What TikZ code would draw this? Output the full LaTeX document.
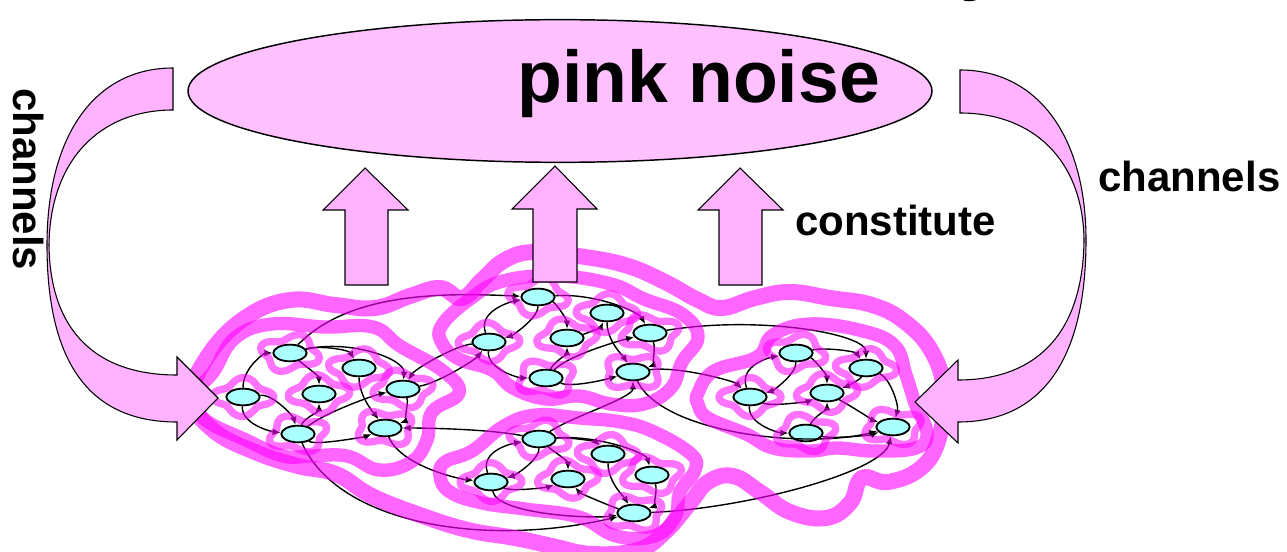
\documentclass[tikz,border=0pt]{standalone}
\usepackage{fontspec}
\setmainfont{Liberation Sans}
\usetikzlibrary{arrows.meta,shapes.geometric}
\definecolor{pinkA}{RGB}{255,192,255}
\definecolor{pinkB}{RGB}{255,178,255}
\definecolor{cyanN}{RGB}{170,255,255}
\definecolor{magB}{RGB}{255,0,255}
\newcommand{\nring}[3]{\draw[ringsty] plot[smooth cycle, variable=\a, samples=36, domain=0:350] ({#1+(27+4*sin(4*\a+#3))*cos(\a)},{#2+(16+3.5*sin(4*\a+#3))*sin(\a)});}
\tikzset{
  nd/.style={ellipse, draw=black, line width=1.4pt, fill=cyanN, minimum width=25pt, minimum height=12.5pt, inner sep=0pt},
  lnk/.style={draw=black, line width=1.05pt, -{Latex[length=6pt,width=5pt]}},
  ringsty/.style={draw=magB, draw opacity=0.55, line width=5.5pt, line join=round},
  clblob/.style={draw=magB, draw opacity=0.6, line width=10pt, line join=round},
  glblob/.style={draw=magB, draw opacity=0.6, line width=12pt, line join=round},
  bigarrow/.style={draw=black, line width=0.8pt, fill=pinkB, line join=miter},
  lbl/.style={font=\fontsize{31.5}{36}\selectfont\bfseries, inner sep=0pt}
}
\begin{document}
\begin{tikzpicture}[x=0.75pt,y=-0.75pt]
\useasboundingbox (0,0) rectangle (1287,552);

% ---------- network nodes ----------
\node[nd] (A1) at (290,353) {};
\node[nd] (A2) at (359,368) {};
\node[nd] (A3) at (243,397) {};
\node[nd] (A4) at (319,394) {};
\node[nd] (A5) at (403,389) {};
\node[nd] (A6) at (298,434) {};
\node[nd] (A7) at (385,428) {};
\node[nd] (B1) at (538,297) {};
\node[nd] (B2) at (607,313) {};
\node[nd] (B3) at (489,342) {};
\node[nd] (B4) at (567,338) {};
\node[nd] (B5) at (650,333) {};
\node[nd] (B6) at (546,378) {};
\node[nd] (B7) at (633,372) {};
\node[nd] (C1) at (539,439) {};
\node[nd] (C2) at (608,454) {};
\node[nd] (C3) at (491,482) {};
\node[nd] (C4) at (568,479) {};
\node[nd] (C5) at (652,475) {};
\node[nd] (C6) at (634,513) {};
\node[nd] (D1) at (796,353) {};
\node[nd] (D2) at (866,368) {};
\node[nd] (D3) at (750,397) {};
\node[nd] (D4) at (827,393) {};
\node[nd] (D5) at (806,433) {};
\node[nd] (D6) at (893,427) {};

% ---------- links ----------
\draw[lnk] (A3) .. controls +(0,-30) and +(-25,0) .. (A1);
\draw[lnk] (A1) .. controls +(30,-8) and +(-10,-18) .. (A2);
\draw[lnk] (A1) .. controls +(14,12) and +(0,-18) .. (A4);
\draw[lnk] (A3) .. controls +(30,-3) and +(-5,-18) .. (A6);
\draw[lnk] (A3) .. controls +(-2,28) and +(-24,-2) .. (A6);
\draw[lnk] (A6) .. controls +(6,-16) and +(0,18) .. (A4);
\draw[lnk] (A1) .. controls +(60,-14) and +(2,-30) .. (A5);
\draw[lnk] (A2) .. controls +(0,28) and +(-12,-16) .. (A7);
\draw[lnk] (A6) .. controls +(28,-22) and +(-28,6) .. (A5);
\draw[lnk] (A6) .. controls +(18,12) and +(-18,8) .. (A7);
\draw[lnk] (A5) .. controls +(6,14) and +(18,-6) .. (A7);
\draw[lnk] (C1) .. controls +(-50,-10) and +(40,0) .. (A7);
\draw[lnk] (A1) .. controls +(60,-62) and +(-90,-4) .. (B1);
\draw[lnk] (A5) .. controls +(35,-6) and +(-14,18) .. (B3);
\draw[lnk] (B3) .. controls +(-35,4) and +(12,-20) .. (A5);
\draw[lnk] (A6) .. controls +(40,90) and +(-150,35) .. (C6);
\draw[lnk] (A7) .. controls +(16,38) and +(-32,-3) .. (C3);

\draw[lnk] (B1) .. controls +(18,6) and +(0,-18) .. (B4);
\draw[lnk] (B1) .. controls +(0,22) and +(22,-6) .. (B3);
\draw[lnk] (B3) .. controls +(-12,-32) and +(-24,4) .. (B1);
\draw[lnk] (B3) .. controls +(-2,28) and +(-26,0) .. (B6);
\draw[lnk] (B4) .. controls +(18,-4) and +(-6,14) .. (B2);
\draw[lnk] (B6) .. controls +(8,-16) and +(0,16) .. (B4);
\draw[lnk] (B1) .. controls +(55,-4) and +(-12,-22) .. (B5);
\draw[lnk] (B2) .. controls +(0,28) and +(-10,-16) .. (B7);
\draw[lnk] (B6) .. controls +(24,-24) and +(-24,6) .. (B5);
\draw[lnk] (B6) .. controls +(28,10) and +(-22,6) .. (B7);
\draw[lnk] (B5) .. controls +(6,16) and +(18,-6) .. (B7);
\draw[lnk] (B5) .. controls +(110,-18) and +(0,-34) .. (D2);
\draw[lnk] (B7) .. controls +(45,-6) and +(-16,-16) .. (D3);
\draw[lnk] (B7) .. controls +(30,62) and +(-85,22) .. (D6);
\draw[lnk] (C1) .. controls +(32,-22) and +(0,26) .. (B7);

\draw[lnk] (C1) .. controls +(32,-2) and +(-12,-12) .. (C2);
\draw[lnk] (C1) .. controls +(14,12) and +(0,-18) .. (C4);
\draw[lnk] (C1) .. controls +(0,22) and +(22,-6) .. (C3);
\draw[lnk] (C3) .. controls +(-12,-32) and +(-24,4) .. (C1);
\draw[lnk] (C1) .. controls +(60,-4) and +(-6,-22) .. (C5);
\draw[lnk] (C2) .. controls +(0,28) and +(-10,-16) .. (C6);
\draw[lnk] (C3) .. controls +(22,10) and +(-20,8) .. (C4);
\draw[lnk] (C6) .. controls +(-22,-6) and +(12,14) .. (C4);
\draw[lnk] (C5) .. controls +(6,16) and +(18,-6) .. (C6);
\draw[lnk] (C3) .. controls +(6,32) and +(-45,6) .. (C6);
\draw[lnk] (C6) .. controls +(110,-4) and +(-10,45) .. (D6);

\draw[lnk] (D1) .. controls +(18,6) and +(0,-18) .. (D4);
\draw[lnk] (D1) .. controls +(0,22) and +(22,-6) .. (D3);
\draw[lnk] (D3) .. controls +(-12,-32) and +(-24,4) .. (D1);
\draw[lnk] (D1) .. controls +(32,-6) and +(-10,-16) .. (D2);
\draw[lnk] (D2) .. controls +(-6,12) and +(18,-6) .. (D4);
\draw[lnk] (D3) .. controls +(22,10) and +(-18,8) .. (D4);
\draw[lnk] (D5) .. controls +(8,-16) and +(0,16) .. (D4);
\draw[lnk] (D4) .. controls +(22,12) and +(-18,-6) .. (D6);
\draw[lnk] (D3) .. controls +(-2,28) and +(-26,0) .. (D5);
\draw[lnk] (D5) .. controls +(28,6) and +(-22,8) .. (D6);
\draw[lnk] (D2) .. controls +(24,10) and +(6,-22) .. (D6);

% ---------- pink hierarchical blobs ----------
\nring{290}{353}{0}
\nring{359}{368}{40}
\nring{243}{397}{80}
\nring{319}{394}{120}
\nring{403}{389}{160}
\nring{298}{434}{200}
\nring{385}{428}{240}
\nring{538}{297}{30}
\nring{607}{313}{70}
\nring{489}{342}{110}
\nring{567}{338}{150}
\nring{650}{333}{190}
\nring{546}{378}{230}
\nring{633}{372}{270}
\nring{539}{439}{20}
\nring{608}{454}{60}
\nring{491}{482}{100}
\nring{568}{479}{140}
\nring{652}{475}{180}
\nring{634}{513}{220}
\nring{796}{353}{10}
\nring{866}{368}{50}
\nring{750}{397}{90}
\nring{827}{393}{130}
\nring{806}{433}{170}
\nring{893}{427}{210}

\draw[clblob] plot[smooth cycle, tension=0.7] coordinates {(214,371) (235,338) (272,324) (325,327) (373,327) (400,346) (443,371) (459,393) (432,412) (427,440) (411,462) (379,470) (347,456) (310,456) (283,456) (246,440) (203,418) (197,393)};
\draw[clblob] plot[smooth cycle, tension=0.7] coordinates {(442,325) (470,299) (503,281) (557,276) (611,284) (644,299) (682,314) (698,337) (682,362) (671,388) (644,404) (611,404) (579,396) (546,399) (513,388) (492,370) (459,359) (442,343)};
\draw[clblob] plot[smooth cycle, tension=0.7] coordinates {(445,462) (472,451) (504,426) (536,415) (579,418) (621,422) (654,432) (691,454) (695,470) (680,492) (675,517) (654,536) (616,536) (579,517) (525,509) (482,503) (450,492) (440,476)};
\draw[clblob] plot[smooth cycle, tension=0.7] coordinates {(698,393) (714,371) (757,357) (773,335) (810,324) (863,331) (895,346) (906,375) (916,406) (927,433) (916,448) (874,451) (837,448) (810,451) (773,448) (746,434) (708,418) (698,404)};
\draw[glblob] plot[smooth cycle, tension=0.7] coordinates {(192,398) (208,356) (245,318) (290,300) (335,305) (375,308) (410,296) (440,288) (462,298) (482,280) (505,260) (535,252) (585,257) (628,266) (665,282) (698,300) (722,308) (755,298) (790,292) (830,298) (872,305) (905,322) (932,352) (944,392) (939,438) (921,468) (888,482) (862,478) (850,503) (826,518) (790,512) (760,492) (733,476) (708,482) (690,503) (665,532) (638,550) (592,554) (552,546) (515,538) (468,530) (420,515) (372,496) (336,474) (298,466) (255,452) (213,430)};

% ---------- top ellipse ----------
\node[ellipse, draw=black, line width=1.1pt, fill=pinkA, minimum width=558pt, minimum height=107pt, inner sep=0pt] (noise) at (560,91) {};
\node[anchor=base west, inner sep=0pt, font=\fontsize{55}{60}\selectfont\bfseries] (pn) at (517,103) {pink noise};
\node[anchor=base west, inner sep=0pt, font=\fontsize{55}{60}\selectfont\bfseries] (ty) at (960,-13) {y};

% ---------- constitute arrows ----------
\draw[bigarrow] (345,285) -- (345,210) -- (323,210) -- (365,168) -- (408,210) -- (388,210) -- (388,285) -- cycle;
\draw[bigarrow] (533,282) -- (533,209) -- (512,209) -- (555,166) -- (597,209) -- (577,209) -- (577,282) -- cycle;
\draw[bigarrow] (719,285) -- (719,210) -- (698,210) -- (740,168) -- (783,210) -- (762,210) -- (762,285) -- cycle;

% ---------- channel arrows ----------
\draw[bigarrow] (173,68) .. controls (95,68) and (47,135) .. (47,245) .. controls (47,370) and (95,422) .. (177,422) -- (177,440) -- (218,398) -- (177,357) -- (177,375) .. controls (95,375) and (50,330) .. (49,245) .. controls (50,160) and (100,110) .. (173,110) -- cycle;
\draw[bigarrow] (960,70) .. controls (1038,70) and (1086,137) .. (1086,240) .. controls (1086,365) and (1038,422) .. (958,422) -- (958,443) -- (915,402) -- (958,360) -- (958,380) .. controls (1035,380) and (1083,335) .. (1084,240) .. controls (1083,160) and (1033,113) .. (960,113) -- cycle;

% ---------- labels ----------
\node[lbl, anchor=base west, rotate=-90] (chL) at (13,88) {channels};
\node[lbl, anchor=base west] (chR) at (1098,192) {channels};
\node[lbl, anchor=base west] (con) at (795,235) {constitute};
\end{tikzpicture}
\end{document}
